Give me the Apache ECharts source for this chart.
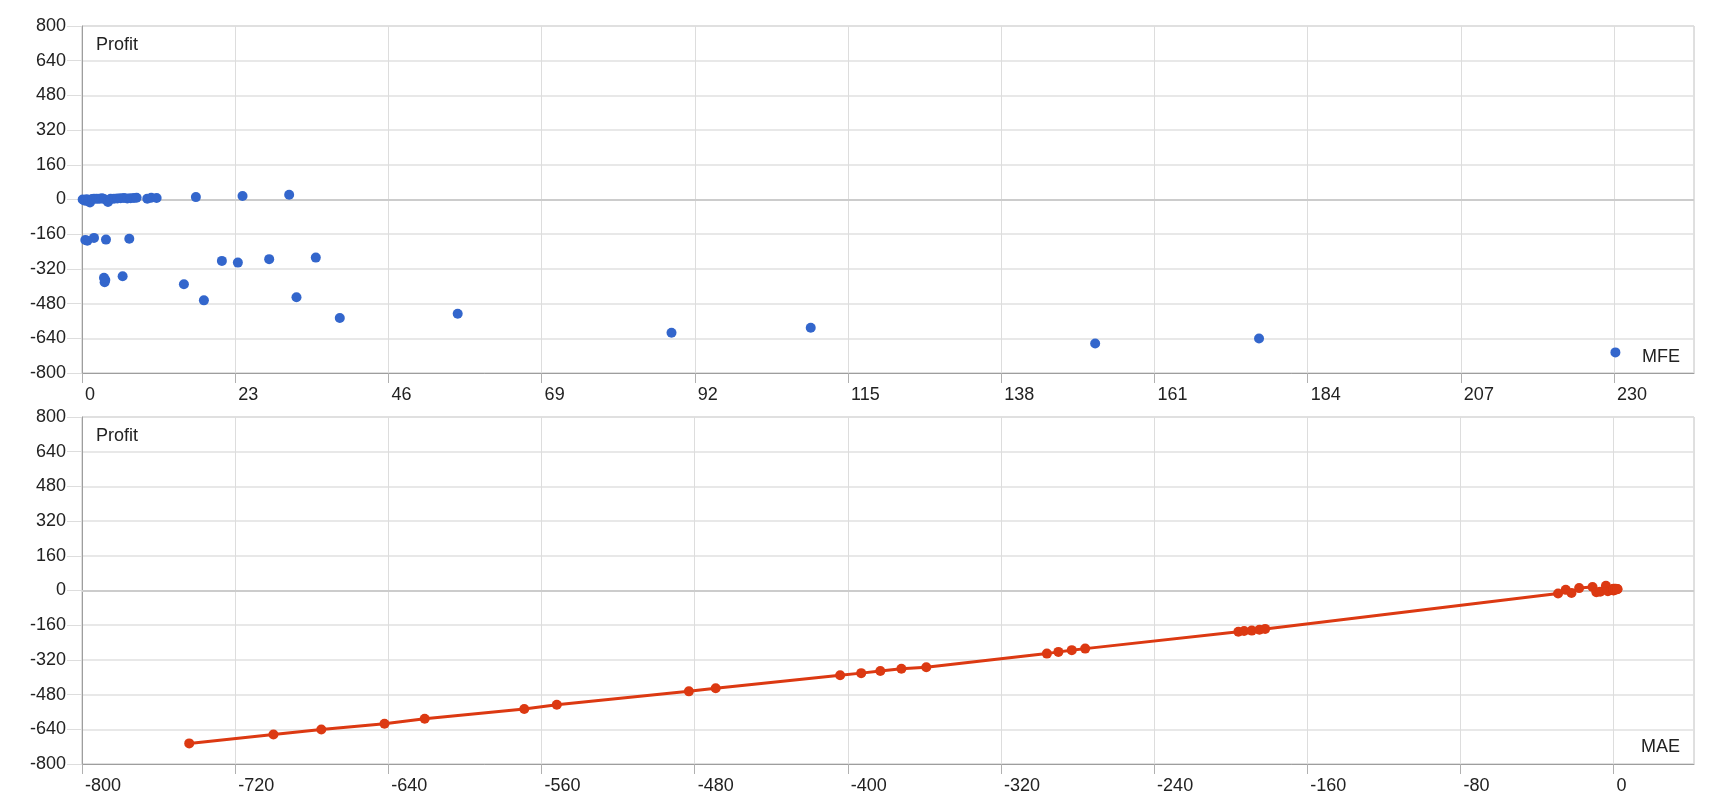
<!DOCTYPE html>
<html>
<head>
<meta charset="utf-8">
<script src="https://cdn.jsdelivr.net/npm/echarts@6/dist/echarts.min.js"></script>
<style>html,body{margin:0;padding:0;background:#fff;}#c{width:1720px;height:800px;}</style>
</head>
<body>
<div id="c"></div>
<script>
// Trades: maximum favourable excursion, maximum adverse excursion, profit
const mfe = [230.2, 152.1, 176.7, 88.5, 109.4, 38.7, 56.4, 18.3, 32.2, 15.3, 3.4, 3.5, 3.3, 6.1,
  23.4, 21.0, 28.1, 35.1, 0.8, 0.5, 3.6, 7.1, 1.8,
  0.1, 0.3, 0.5, 0.7, 1.0, 1.2, 1.5, 1.8, 2.2, 2.6, 3.0, 3.3, 3.9, 4.3, 4.8, 5.3, 5.8, 6.3, 6.8,
  7.3, 7.8, 8.2, 9.8, 10.4, 11.2, 17.1, 24.1, 31.1];
const mae = [-744, -700, -675, -642, -621, -569, -552, -483, -469, -404, -393, -383, -372, -359,
  -296, -290, -283, -276, -196, -193, -189, -185, -182,
  0, -3, -7, 0, -9, -29, 0, 0, -1, -25, 1, 0, -22, 0, 0, 1, 0, 1, 0,
  2, 0, 1, -1, 0, 2, -18, -11, -4];
const profit = [-705, -664, -641, -614, -591, -546, -527, -465, -451, -391, -381, -371, -361, -354,
  -291, -283, -275, -268, -190, -187, -185, -181, -177,
  0, -3, -6, 1, -8, -14, 2, 3, 4, 3, 6, 2, -11, 3, 4, 5, 6, 7, 5,
  6, 7, 8, 4, 8, 7, 11, 16, 22];

const profitTicks = [-800, -640, -480, -320, -160, 0, 160, 320, 480, 640, 800];
const mfeTicks = [0, 23, 46, 69, 92, 115, 138, 161, 184, 207, 230];
const maeTicks = [-800, -720, -640, -560, -480, -400, -320, -240, -160, -80, 0];

const FONT = "'Liberation Sans', Arial, sans-serif";
const chart = echarts.init(document.getElementById('c'), null, {renderer: 'canvas'});

const mfeData = mfe.map((v, i) => [v, profit[i]]);
const maeData = mae.map((v, i) => [v, profit[i]]).sort((a, b) => a[0] - b[0]);

function xAxis(idx, min, max, interval, ticks) {
  return {
    type: 'value', gridIndex: idx, min: min, max: max, interval: interval,
    axisLine: {show: true, onZero: false, lineStyle: {color: '#9e9e9e', width: 1}},
    axisTick: {show: true, length: 10, customValues: ticks, lineStyle: {color: '#b0b0b0'}},
    axisLabel: {customValues: ticks, align: 'left', padding: [0, 0, 0, 3], margin: 13,
      fontSize: 18, color: '#222', fontFamily: FONT},
    splitLine: {show: true, lineStyle: {color: '#dddddd', width: 1}}
  };
}
function yAxis(idx) {
  return {
    type: 'value', gridIndex: idx, min: -800, max: 800, interval: 160,
    axisLine: {show: true, onZero: false, lineStyle: {color: '#9e9e9e', width: 1}},
    axisTick: {show: true, length: 15, lineStyle: {color: '#dddddd'}},
    axisLabel: {margin: 16, fontSize: 18, color: '#222', fontFamily: FONT},
    splitLine: {show: true, lineStyle: {color: '#e0e0e0', width: 1.5}}
  };
}
const zeroLine = {
  silent: true, symbol: 'none', z: 1, animation: false,
  label: {show: false},
  lineStyle: {color: '#cccccc', width: 2, type: 'solid'},
  data: [{yAxis: 0}]
};

chart.setOption({
  animation: false,
  backgroundColor: '#ffffff',
  textStyle: {fontFamily: FONT},
  grid: [
    {left: 82, right: 26, top: 26, height: 347, show: true, borderColor: '#c0c0c0', borderWidth: 1},
    {left: 82, right: 26, top: 417, height: 347, show: true, borderColor: '#c0c0c0', borderWidth: 1}
  ],
  xAxis: [xAxis(0, 0, 242, 23, mfeTicks), xAxis(1, -800, 42, 80, maeTicks)],
  yAxis: [yAxis(0), yAxis(1)],
  graphic: [
    {type: 'text', left: 96, top: 36, style: {text: 'Profit', font: '18px ' + FONT, fill: '#222'}},
    {type: 'text', left: 96, top: 427, style: {text: 'Profit', font: '18px ' + FONT, fill: '#222'}},
    {type: 'text', right: 40, top: 348, style: {text: 'MFE', font: '18px ' + FONT, fill: '#222'}},
    {type: 'text', right: 40, top: 738, style: {text: 'MAE', font: '18px ' + FONT, fill: '#222'}}
  ],
  series: [
    {
      type: 'scatter', xAxisIndex: 0, yAxisIndex: 0, data: mfeData,
      symbol: 'circle', symbolSize: 10, itemStyle: {color: '#3366cc', opacity: 1},
      markLine: zeroLine
    },
    {
      type: 'line', xAxisIndex: 1, yAxisIndex: 1, data: maeData,
      symbol: 'circle', symbolSize: 10, showSymbol: true,
      itemStyle: {color: '#dc3912'}, lineStyle: {color: '#dc3912', width: 3},
      markLine: zeroLine
    }
  ]
});
</script>
</body>
</html>
